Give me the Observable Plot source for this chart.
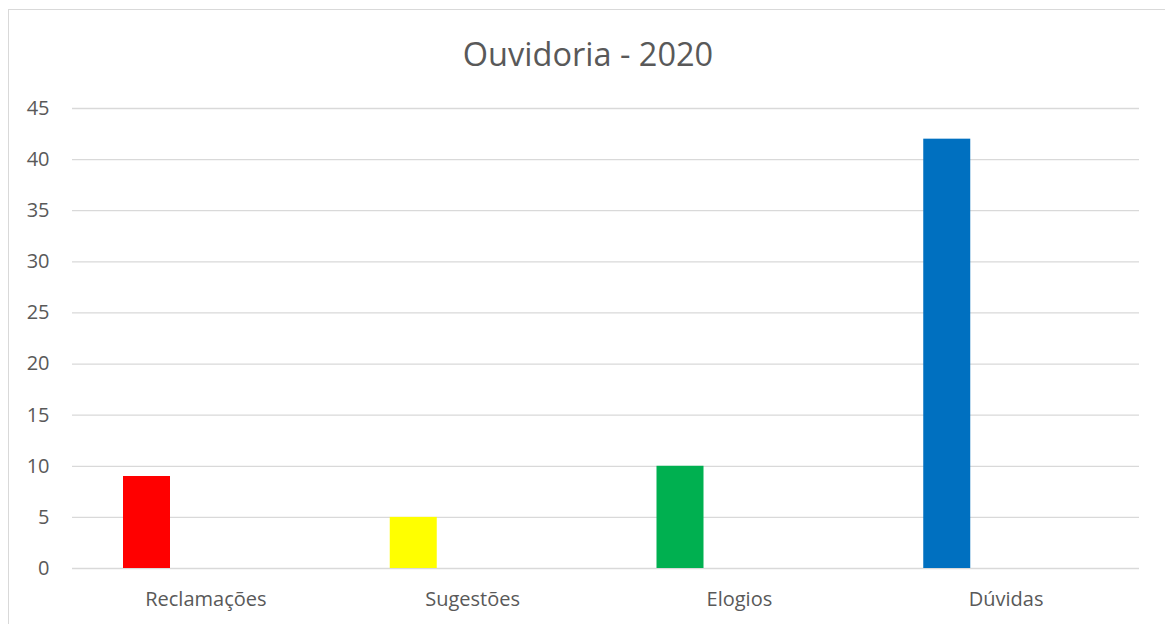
<!DOCTYPE html>
<html>
<head>
<meta charset="utf-8">
<script src="https://cdn.jsdelivr.net/npm/d3@7"></script>
<script src="https://cdn.jsdelivr.net/npm/@observablehq/plot@0.6"></script>
<style>
  html, body { margin: 0; padding: 0; background: #fff; overflow: hidden; }
  body { width: 1165px; height: 624px; position: relative; font-family: "Open Sans", sans-serif; }
  #frame { position: absolute; left: 8px; top: 9px; width: 1160px; height: 640px; border: 1.5px solid #d9d9d9; box-sizing: border-box; }
  #title { position: absolute; left: 0; width: 1176px; top: 38px; text-align: center; font-size: 32.5px; line-height: 32px; color: #595959; }
  #chart { position: absolute; left: 0; top: 90px; }
</style>
</head>
<body>
<div id="frame"></div>
<div id="title">Ouvidoria - 2020</div>
<div id="chart"></div>
<script>
const categories = ["Reclamações", "Sugestões", "Elogios", "Dúvidas"];
const values = [9, 5, 10, 42];
const barColors = ["#FF0000", "#FFFF00", "#00B050", "#0070C0"];
const yTicks = [0, 5, 10, 15, 20, 25, 30, 35, 40, 45];

const data = categories.map((c, i) => ({category: c, value: values[i]}));

const chart = Plot.plot({
  width: 1165,
  height: 534,
  marginLeft: 72,
  marginRight: 26,
  marginTop: 18,
  marginBottom: 56,
  style: {fontFamily: "Open Sans, sans-serif", color: "#595959", background: "transparent"},
  x: {domain: categories, paddingInner: 0, paddingOuter: 0, round: false, label: null},
  y: {domain: [0, 45], label: null},
  color: {domain: categories, range: barColors},
  marks: [
    Plot.ruleY(yTicks, {stroke: "#d9d9d9", strokeWidth: 1.3}),
    Plot.barY(data, {x: "category", y: "value", fill: "category", insetLeft: 51, insetRight: 168.75}),
    Plot.axisY(yTicks, {tickSize: 0, tickPadding: 23, fontSize: 20, fill: "#595959", label: null}),
    Plot.axisX({tickSize: 0, tickPadding: 23, fontSize: 20, fill: "#595959", label: null})
  ]
});
document.getElementById("chart").appendChild(chart);
</script>
</body>
</html>
